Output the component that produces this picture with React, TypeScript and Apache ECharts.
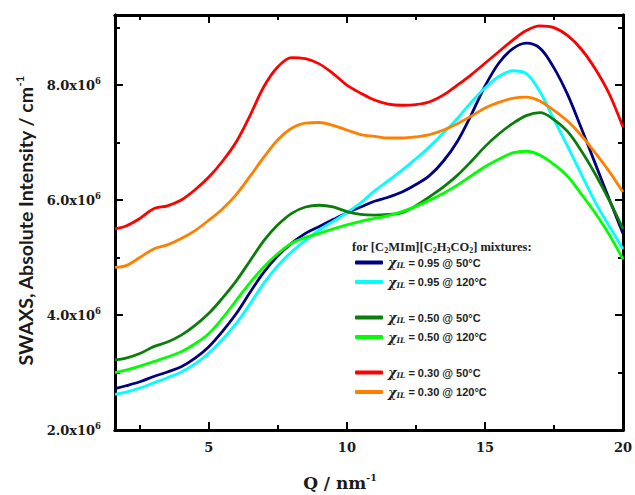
import React, { useEffect, useRef } from "react";
import * as echarts from "echarts";

// Scattering vector Q (nm^-1)
const Q = [1.6, 2, 2.5, 3, 3.5, 4, 4.5, 5, 5.5, 6, 6.5, 7, 7.5, 8, 8.5, 9, 9.5, 10, 10.5, 11, 11.5, 12, 12.5, 13, 13.5, 14, 14.5, 15, 15.5, 16, 16.5, 17, 17.5, 18, 18.5, 19, 19.5, 20];

// Intensities in units of 10^6 cm^-1
const x095_50C = [2.72, 2.77, 2.84, 2.93, 3.01, 3.10, 3.25, 3.45, 3.72, 4.03, 4.40, 4.75, 5.03, 5.25, 5.42, 5.54, 5.66, 5.78, 5.88, 5.98, 6.05, 6.14, 6.27, 6.43, 6.68, 7.02, 7.48, 7.98, 8.38, 8.63, 8.73, 8.64, 8.30, 7.83, 7.24, 6.63, 6.02, 5.42];
const x095_120C = [2.62, 2.66, 2.73, 2.82, 2.91, 3.01, 3.15, 3.34, 3.58, 3.86, 4.20, 4.56, 4.86, 5.10, 5.30, 5.48, 5.63, 5.78, 5.95, 6.16, 6.34, 6.52, 6.72, 6.93, 7.17, 7.42, 7.70, 7.95, 8.15, 8.25, 8.20, 7.88, 7.40, 6.93, 6.44, 5.96, 5.55, 5.15];
const x050_50C = [3.22, 3.25, 3.33, 3.45, 3.53, 3.65, 3.82, 4.03, 4.30, 4.60, 4.95, 5.30, 5.57, 5.77, 5.88, 5.91, 5.88, 5.80, 5.75, 5.74, 5.75, 5.78, 5.90, 6.06, 6.23, 6.43, 6.67, 6.93, 7.15, 7.33, 7.47, 7.52, 7.40, 7.19, 6.85, 6.45, 6.00, 5.50];
const x050_120C = [3.00, 3.04, 3.11, 3.19, 3.27, 3.36, 3.50, 3.68, 3.95, 4.26, 4.57, 4.84, 5.07, 5.25, 5.35, 5.42, 5.50, 5.57, 5.63, 5.68, 5.73, 5.80, 5.89, 6.00, 6.12, 6.26, 6.42, 6.58, 6.71, 6.82, 6.85, 6.78, 6.62, 6.41, 6.10, 5.77, 5.40, 4.97];
const x030_50C = [5.50, 5.55, 5.68, 5.85, 5.90, 6.00, 6.18, 6.40, 6.68, 7.02, 7.48, 7.98, 8.32, 8.48, 8.46, 8.37, 8.20, 8.00, 7.86, 7.74, 7.67, 7.65, 7.66, 7.71, 7.83, 8.00, 8.18, 8.38, 8.58, 8.78, 8.95, 9.03, 9.00, 8.86, 8.62, 8.28, 7.85, 7.27];
const x030_120C = [4.83, 4.86, 5.00, 5.15, 5.22, 5.33, 5.47, 5.65, 5.85, 6.10, 6.42, 6.75, 7.05, 7.25, 7.34, 7.35, 7.30, 7.22, 7.14, 7.11, 7.08, 7.08, 7.10, 7.14, 7.22, 7.33, 7.46, 7.60, 7.70, 7.77, 7.79, 7.72, 7.56, 7.37, 7.12, 6.82, 6.50, 6.14];

const seriesNames = ["0.95 @ 50°C", "0.95 @ 120°C", "0.50 @ 50°C", "0.50 @ 120°C", "0.30 @ 50°C", "0.30 @ 120°C"];
const seriesValues = [x095_50C, x095_120C, x050_50C, x050_120C, x030_50C, x030_120C];
const seriesColors = ["#000080", "#00ffff", "#0a7d0a", "#00ff00", "#ff0000", "#ff8000"];

const xMajorTicks = [5, 10, 15, 20];
const xMinorTicks = [2.5, 7.5, 12.5, 17.5];
const yMajorTicks = [2, 4, 6, 8];
const yMinorTicks = [3, 5, 7, 9];

const X_MIN = 1.6;
const X_MAX = 20;
const Y_MIN = 2;
const Y_MAX = 9.22;

const serifFont = "DejaVu Serif";
const axisColor = "#000";

function makeX(position: string, ticks: number[], len: number, labels: boolean) {
  return {
    type: "value",
    min: X_MIN,
    max: X_MAX,
    position,
    splitLine: { show: false },
    axisLine: { show: true, onZero: false, lineStyle: { color: axisColor, width: 3 } },
    axisTick: { show: true, inside: true, length: len, customValues: ticks, lineStyle: { color: axisColor, width: 2 } },
    axisLabel: labels
      ? {
          show: true,
          customValues: ticks,
          margin: 11,
          color: "#1a1a1a",
          fontFamily: serifFont,
          fontWeight: "bold",
          fontSize: 13,
        }
      : { show: false },
  };
}

function makeY(position: string, ticks: number[], len: number, labels: boolean) {
  return {
    type: "value",
    min: Y_MIN,
    max: Y_MAX,
    position,
    splitLine: { show: false },
    axisLine: { show: true, onZero: false, lineStyle: { color: axisColor, width: 3 } },
    axisTick: { show: true, inside: true, length: len, customValues: ticks, lineStyle: { color: axisColor, width: 2 } },
    axisLabel: labels
      ? {
          show: true,
          customValues: ticks,
          margin: 14,
          formatter: (v: number) => `{a|${v.toFixed(1)}x10}{s|6}`,
          rich: {
            a: { fontFamily: serifFont, fontWeight: "bold", fontSize: 13, lineHeight: 17, color: "#1a1a1a" },
            s: { fontFamily: serifFont, fontWeight: "bold", fontSize: 8.5, lineHeight: 10, verticalAlign: "top", color: "#1a1a1a" },
          },
        }
      : { show: false },
  };
}

const legendRich = {
  x: { fontFamily: serifFont, fontWeight: "bold", fontStyle: "italic", fontSize: 13, lineHeight: 14, color: "#222" },
  sub: { fontFamily: serifFont, fontWeight: "bold", fontStyle: "italic", fontSize: 7.5, lineHeight: 9, verticalAlign: "bottom", color: "#222" },
  t: { fontFamily: "Liberation Sans", fontWeight: "bold", fontSize: 11, lineHeight: 14, color: "#222" },
};

function makeLegend(names: string[], top: number) {
  return {
    show: true,
    orient: "vertical",
    left: 355,
    top,
    padding: 0,
    itemGap: 6,
    itemWidth: 28,
    itemHeight: 4,
    icon: "roundRect",
    selectedMode: false,
    data: names,
    formatter: (name: string) => `{x|χ}{sub|IL}{t| = ${name}}`,
    textStyle: { rich: legendRich },
  };
}

export default function App() {
  const ref = useRef<HTMLDivElement>(null);

  useEffect(() => {
    if (!ref.current) return;
    const chart = echarts.init(ref.current, null, { renderer: "svg" });

    const series = seriesNames.map((name, i) => ({
      name,
      type: "line",
      xAxisIndex: 0,
      yAxisIndex: 0,
      showSymbol: false,
      smooth: 0.35,
      color: seriesColors[i],
      lineStyle: { color: seriesColors[i], width: 2.8 },
      data: Q.map((q, j) => [q, seriesValues[i][j]]),
    }));

    chart.setOption({
      animation: false,
      backgroundColor: "#fff",
      grid: { left: 115, right: 11, top: 15, bottom: 65, containLabel: false },
      xAxis: [
        makeX("bottom", xMajorTicks, 8, true),
        makeX("bottom", xMinorTicks, 5, false),
        makeX("top", xMajorTicks, 8, false),
        makeX("top", xMinorTicks, 5, false),
      ],
      yAxis: [
        makeY("left", yMajorTicks, 8, true),
        makeY("left", yMinorTicks, 5, false),
        makeY("right", yMajorTicks, 8, false),
        makeY("right", yMinorTicks, 5, false),
      ],
      legend: [
        makeLegend(seriesNames.slice(0, 2), 256),
        makeLegend(seriesNames.slice(2, 4), 311),
        makeLegend(seriesNames.slice(4, 6), 366),
      ],
      graphic: [
        {
          type: "text",
          left: 352,
          top: 240,
          style: {
            text: "{t|for [C}{s|2}{t|MIm][C}{s|2}{t|H}{s|3}{t|CO}{s|2}{t|] mixtures:}",
            rich: {
              t: { fontFamily: "Liberation Serif", fontWeight: "bold", fontSize: 12.5, lineHeight: 15, fill: "#222" },
              s: { fontFamily: "Liberation Serif", fontWeight: "bold", fontSize: 8, lineHeight: 10, verticalAlign: "bottom", fill: "#222" },
            },
          },
        },
        {
          type: "text",
          x: 340,
          y: 483,
          style: {
            text: "{a|Q / nm}{s|-1}",
            align: "center",
            verticalAlign: "middle",
            rich: {
              a: { fontFamily: serifFont, fontWeight: "bold", fontSize: 17, lineHeight: 21, fill: "#1a1a1a" },
              s: { fontFamily: serifFont, fontWeight: "bold", fontSize: 9.5, lineHeight: 10, verticalAlign: "top", fill: "#1a1a1a" },
            },
          },
        },
        {
          type: "text",
          x: 25,
          y: 221,
          rotation: Math.PI / 2,
          style: {
            text: "{a|SWAXS, Absolute Intensity / cm}{s|-1}",
            align: "center",
            verticalAlign: "middle",
            rich: {
              a: { fontFamily: "Lato", fontWeight: "bold", fontSize: 19.5, lineHeight: 22, fill: "#1a1a1a" },
              s: { fontFamily: "Lato", fontWeight: "bold", fontSize: 11, lineHeight: 11, verticalAlign: "top", fill: "#1a1a1a" },
            },
          },
        },
      ],
      series,
    });

    return () => chart.dispose();
  }, []);

  return <div ref={ref} style={{ width: 635, height: 495, position: "absolute", left: 0, top: 0 }} />;
}
